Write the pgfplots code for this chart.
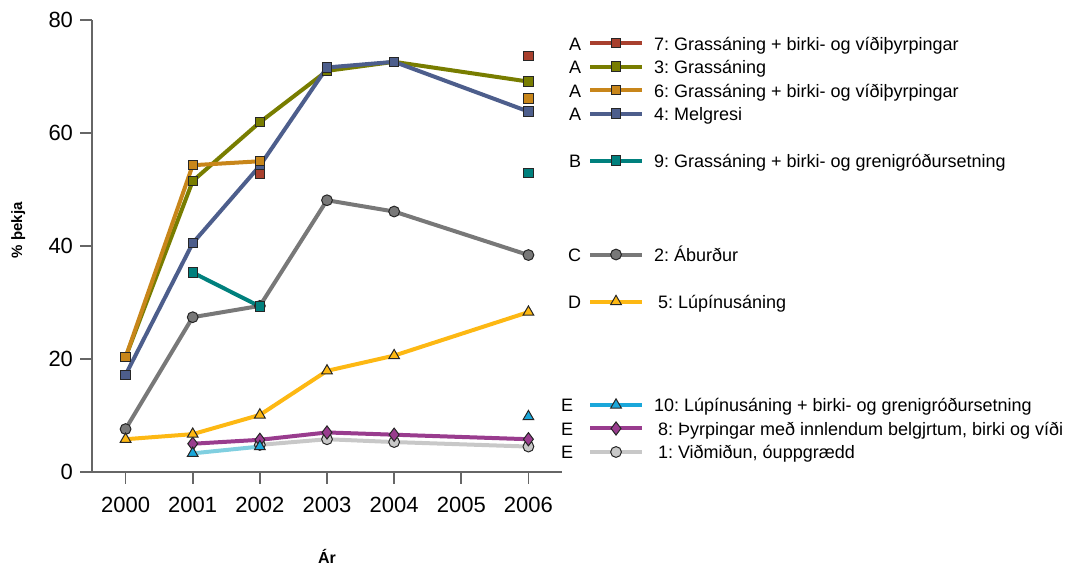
\documentclass[border=0pt]{standalone}
\usepackage{fontspec}
\setmainfont{Liberation Sans}
\usepackage{pgfplots}
\pgfplotsset{compat=1.18}
\frenchspacing

\definecolor{cRed}{HTML}{A8402E}
\definecolor{cOlive}{HTML}{787D00}
\definecolor{cOrange}{HTML}{C8861A}
\definecolor{cBlue}{HTML}{4D5E8C}
\definecolor{cTeal}{HTML}{00807D}
\definecolor{cGray}{HTML}{787878}
\definecolor{cYellow}{HTML}{FDB813}
\definecolor{cCyan}{HTML}{1AA7DA}
\definecolor{cCyanL}{HTML}{80CFE0}
\definecolor{cPurple}{HTML}{993C8E}
\definecolor{cLGray}{HTML}{C8C8C8}
\definecolor{cAxis}{HTML}{666666}

\newcommand{\mylegimg}[2]{%
  \draw[mark repeat=2,mark phase=2] plot coordinates {(0pt,0pt) (13pt,0pt) (26pt,0pt)};
  \node[anchor=east,inner sep=0pt,text=black] at (-#2,0pt) {#1};
}

\pgfplotsset{
  ser/.style 2 args={color=#1, line width=2pt, mark=#2,
     mark options={solid, draw=black!85, line width=0.5pt, fill=#1}},
  sq/.style={ser={#1}{square*}, mark size=2.3pt},
  ci/.style={ser={#1}{*}, mark size=2.7pt},
  tr/.style={ser={#1}{triangle*}, mark size=3.1pt},
  di/.style={ser={#1}{diamond*}, mark size=3.3pt},
  legsty/.style={draw=none, fill=none, inner sep=0pt, outer sep=0pt,
     row sep=0pt, column sep=5pt,
     font=\fontsize{9}{10}\selectfont,
     nodes={inner sep=0pt, text height=9.375pt, text depth=2.375pt}},
}

\begin{document}
\begin{tikzpicture}
\useasboundingbox (0,0) rectangle (537pt,283pt);
\begin{axis}[
  at={(46pt,47pt)}, anchor=south west,
  scale only axis, width=235pt, height=226pt,
  xmin=1999.5, xmax=2006.5, ymin=0, ymax=80,
  axis lines*=left,
  axis line style={draw=cAxis, line width=0.8pt},
  every tick/.style={draw=cAxis, line width=0.8pt},
  tick align=outside, major tick length=6pt,
  xtick={2000,2001,2002,2003,2004,2005,2006},
  ytick={0,20,40,60,80},
  /pgf/number format/assume math mode=true,
  /pgf/number format/1000 sep={},
  tick label style={font=\fontsize{11}{13}\selectfont},
  xticklabel style={yshift=-3pt},
  unbounded coords=jump,
  clip=false,
  ylabel={\textbf{\% þekja}},
  ylabel style={at={(axis description cs:-0.157,0.535)}, anchor=center, font=\fontsize{7.5}{9}\selectfont},
  xlabel={\textbf{Ár}},
  xlabel style={at={(axis description cs:0.5,-0.186)}, anchor=center, font=\fontsize{8}{9}\selectfont},
  legend cell align=left,
  legend style={legsty, at={(axis description cs:1.0128,0.9751)}, anchor=north west},
]
% 1 Viðmiðun
\addplot+[ci=cLGray, forget plot] coordinates {(2002,4.8) (2003,5.8) (2004,5.3) (2006,4.5)};
% 8 Þyrpingar
\addplot+[di=cPurple, forget plot] coordinates {(2001,5.0) (2002,5.7) (2003,7.0) (2004,6.6) (2006,5.8)};
% 10 Lúpínusáning + birki
\addplot+[tr=cCyan, color=cCyanL, mark options={solid, draw=black!85, line width=0.5pt, fill=cCyan}, forget plot] coordinates {(2001,3.3) (2002,4.5) (2003,nan) (2006,9.8)};
% 2 Áburður
\addplot+[ci=cGray, forget plot] coordinates {(2000,7.6) (2001,27.4) (2002,29.4) (2003,48.1) (2004,46.1) (2006,38.4)};
% 5 Lúpínusáning
\addplot+[tr=cYellow, forget plot] coordinates {(2000,5.8) (2001,6.7) (2002,10.1) (2003,17.9) (2004,20.6) (2006,28.3)};
% 3 Grassáning
\addplot+[sq=cOlive, forget plot] coordinates {(2000,20.3) (2001,51.5) (2002,61.9) (2003,71.0) (2004,72.6) (2006,69.1)};
% 4 Melgresi
\addplot+[sq=cBlue, forget plot] coordinates {(2000,17.2) (2001,40.5) (2002,54.2) (2003,71.6) (2004,72.6) (2006,63.8)};
% 6 Grassáning + birki- og víðiþyrpingar
\addplot+[sq=cOrange, forget plot] coordinates {(2000,20.3) (2001,54.3) (2002,55.0) (2003,nan) (2006,66.1)};
% 7 Grassáning + birki- og víðiþyrpingar
\addplot+[sq=cRed, forget plot] coordinates {(2002,52.7) (2003,nan) (2006,73.6)};
% 9 Grassáning + birki- og grenigróðursetning
\addplot+[sq=cTeal, forget plot] coordinates {(2001,35.3) (2002,29.3) (2003,nan) (2006,52.9)};

\addlegendimage{sq=cRed, legend image code/.code={\mylegimg{A}{4.5pt}}}
\addlegendentry{7: Grassáning + birki- og víðiþyrpingar}
\addlegendimage{sq=cOlive, legend image code/.code={\mylegimg{A}{4.5pt}}}
\addlegendentry{3: Grassáning}
\addlegendimage{sq=cOrange, legend image code/.code={\mylegimg{A}{4.5pt}}}
\addlegendentry{6: Grassáning + birki- og víðiþyrpingar}
\addlegendimage{sq=cBlue, legend image code/.code={\mylegimg{A}{4.5pt}}}
\addlegendentry{4: Melgresi}
\addlegendimage{legend image code/.code={}}
\addlegendentry{~}
\addlegendimage{sq=cTeal, legend image code/.code={\mylegimg{B}{4.5pt}}}
\addlegendentry{9: Grassáning + birki- og grenigróðursetning}
\addlegendimage{legend image code/.code={}}
\addlegendentry{~}
\addlegendimage{legend image code/.code={}}
\addlegendentry{~}
\addlegendimage{legend image code/.code={}}
\addlegendentry{~}
\addlegendimage{ci=cGray, legend image code/.code={\mylegimg{C}{4.5pt}}}
\addlegendentry{2: Áburður}
\addlegendimage{legend image code/.code={}}
\addlegendentry{~}
\addlegendimage{tr=cYellow, legend image code/.code={\mylegimg{D}{4.5pt}}}
\addlegendentry{\hspace{2pt}5: Lúpínusáning}
\end{axis}

\begin{axis}[
  at={(46pt,47pt)}, anchor=south west,
  scale only axis, width=235pt, height=226pt,
  xmin=0, xmax=1, ymin=0, ymax=1,
  hide axis,
  legend cell align=left,
  legend style={legsty, at={(axis description cs:0.9979,0.17422)}, anchor=north west},
]
\addlegendimage{tr=cCyan, legend image code/.code={\mylegimg{E}{8.5pt}}}
\addlegendentry{10: Lúpínusáning + birki- og grenigróðursetning}
\addlegendimage{di=cPurple, legend image code/.code={\mylegimg{E}{8.5pt}}}
\addlegendentry{\hspace{2pt}8: Þyrpingar með innlendum belgjrtum, birki og víði}
\addlegendimage{ci=cLGray, legend image code/.code={\mylegimg{E}{8.5pt}}}
\addlegendentry{\hspace{2pt}1: Viðmiðun, óuppgrædd}
\end{axis}
\end{tikzpicture}
\end{document}
